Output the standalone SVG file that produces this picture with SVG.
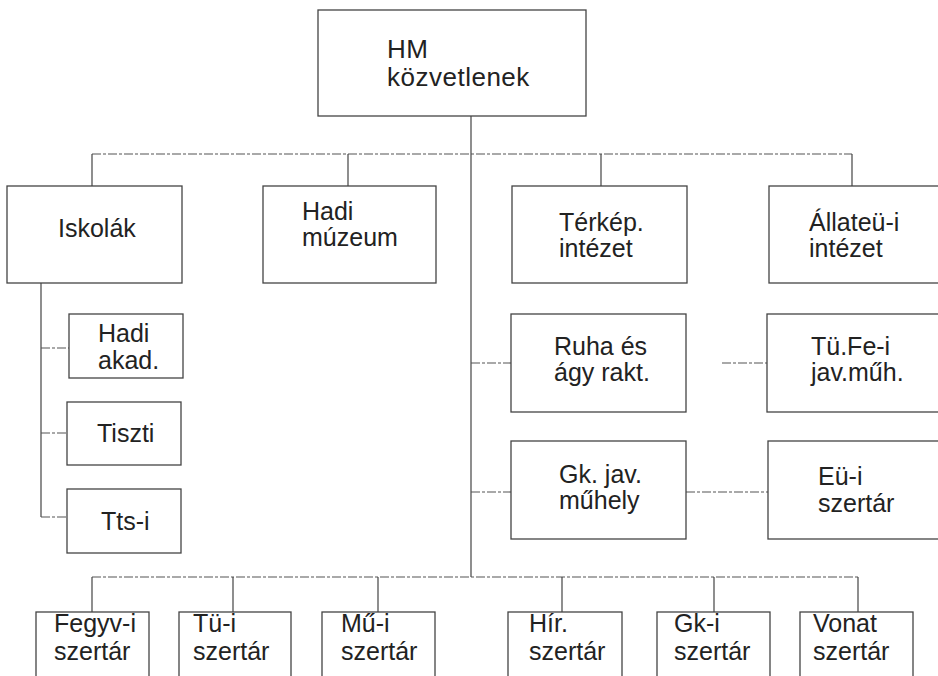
<svg xmlns="http://www.w3.org/2000/svg" width="938" height="676" viewBox="0 0 938 676">
<style>
.box{fill:#fff;stroke:#444;stroke-width:1.3}
.t{font-family:"Liberation Sans",Arial,sans-serif;font-size:25px;fill:#222}
.big{font-size:26px;letter-spacing:0.5px}
.c{fill:none;stroke:#444;stroke-width:1.2}
.h{fill:none;stroke:#555;stroke-width:1.1;stroke-dasharray:9 2 3 2}
</style>
<rect width="938" height="676" fill="#fff"/>
<g id="connectors">
<line class="c" x1="471" y1="116" x2="471" y2="577"/>
<line class="h" x1="92" y1="154" x2="852" y2="154"/>
<line class="c" x1="92" y1="154" x2="92" y2="186"/>
<line class="c" x1="348" y1="154" x2="348" y2="186"/>
<line class="c" x1="601" y1="154" x2="601" y2="186"/>
<line class="c" x1="852" y1="154" x2="852" y2="186"/>
<line class="c" x1="41" y1="283" x2="41" y2="517"/>
<line class="h" x1="41" y1="348" x2="69" y2="348"/>
<line class="h" x1="41" y1="433" x2="67" y2="433"/>
<line class="h" x1="41" y1="517" x2="67" y2="517"/>
<line class="h" x1="471" y1="363" x2="511" y2="363"/>
<line class="h" x1="722" y1="363" x2="767" y2="363"/>
<line class="h" x1="471" y1="492" x2="511" y2="492"/>
<line class="h" x1="686" y1="492" x2="768" y2="492"/>
<line class="h" x1="92" y1="577" x2="858" y2="577"/>
<line class="c" x1="92" y1="577" x2="92" y2="612"/>
<line class="c" x1="233" y1="577" x2="233" y2="612"/>
<line class="c" x1="378" y1="577" x2="378" y2="612"/>
<line class="c" x1="562" y1="577" x2="562" y2="612"/>
<line class="c" x1="714" y1="577" x2="714" y2="612"/>
<line class="c" x1="858" y1="577" x2="858" y2="612"/>
</g>
<g id="hm"><rect class="box" x="318" y="10" width="268" height="106"/><text class="t big" x="387" y="58">HM</text><text class="t big" x="387" y="86">közvetlenek</text></g>
<g id="iskolak"><rect class="box" x="7" y="186" width="175" height="97"/><text class="t" x="58" y="237">Iskolák</text></g>
<g id="hadimuzeum"><rect class="box" x="263" y="186" width="173" height="97"/><text class="t" x="302" y="220">Hadi</text><text class="t" x="302" y="246">múzeum</text></g>
<g id="terkep"><rect class="box" x="512" y="186" width="175" height="97"/><text class="t" x="559" y="231">Térkép.</text><text class="t" x="559" y="257">intézet</text></g>
<g id="allateu"><rect class="box" x="769" y="186" width="180" height="97"/><text class="t" x="809" y="231">Állateü-i</text><text class="t" x="809" y="257">intézet</text></g>
<g id="hadiakad"><rect class="box" x="69" y="314" width="114" height="64"/><text class="t" x="98" y="342">Hadi</text><text class="t" x="98" y="369">akad.</text></g>
<g id="tiszti"><rect class="box" x="67" y="402" width="114" height="63"/><text class="t" x="97" y="442">Tiszti</text></g>
<g id="tts"><rect class="box" x="67" y="489" width="114" height="64"/><text class="t" x="101" y="530">Tts-i</text></g>
<g id="ruha"><rect class="box" x="511" y="314" width="175" height="98"/><text class="t" x="554" y="355">Ruha és</text><text class="t" x="554" y="381">ágy rakt.</text></g>
<g id="tufe"><rect class="box" x="767" y="314" width="182" height="98"/><text class="t" x="811" y="355">Tü.Fe-i</text><text class="t" x="811" y="381">jav.műh.</text></g>
<g id="gkjav"><rect class="box" x="511" y="441" width="175" height="98"/><text class="t" x="559" y="483">Gk. jav.</text><text class="t" x="559" y="509">műhely</text></g>
<g id="eu"><rect class="box" x="768" y="441" width="181" height="98"/><text class="t" x="818" y="485">Eü-i</text><text class="t" x="818" y="512">szertár</text></g>
<g id="fegyv"><rect class="box" x="36" y="612" width="113" height="80"/><text class="t" x="54" y="632">Fegyv-i</text><text class="t" x="54" y="660">szertár</text></g>
<g id="tu"><rect class="box" x="179" y="612" width="112" height="80"/><text class="t" x="193" y="632">Tü-i</text><text class="t" x="193" y="660">szertár</text></g>
<g id="mu"><rect class="box" x="322" y="612" width="113" height="80"/><text class="t" x="341" y="632">Mű-i</text><text class="t" x="341" y="660">szertár</text></g>
<g id="hir"><rect class="box" x="508" y="612" width="114" height="80"/><text class="t" x="529" y="632">Hír.</text><text class="t" x="529" y="660">szertár</text></g>
<g id="gki"><rect class="box" x="657" y="612" width="113" height="80"/><text class="t" x="674" y="632">Gk-i</text><text class="t" x="674" y="660">szertár</text></g>
<g id="vonat"><rect class="box" x="800" y="612" width="113" height="80"/><text class="t" x="813" y="632">Vonat</text><text class="t" x="813" y="660">szertár</text></g>
</svg>
